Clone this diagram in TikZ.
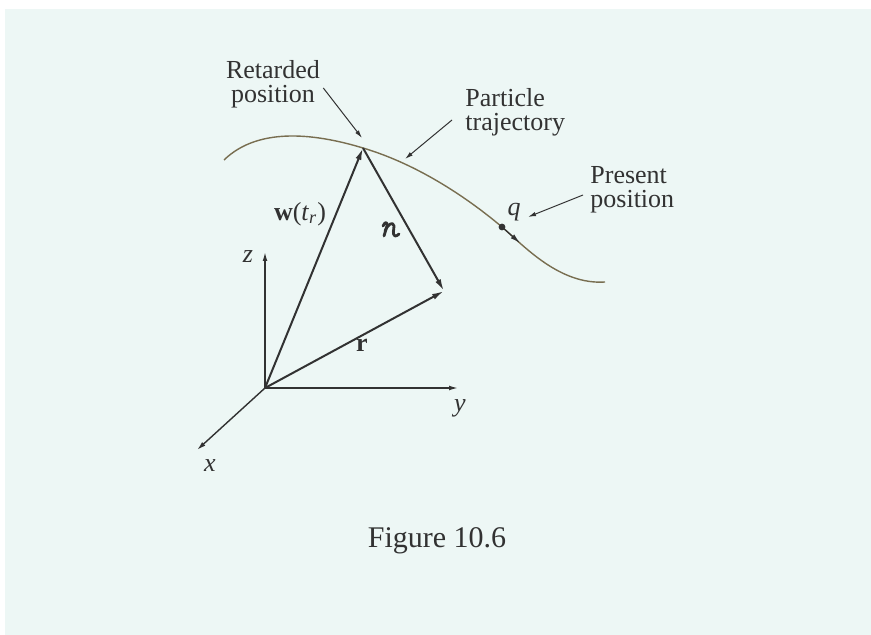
\documentclass[tikz,border=0pt]{standalone}
\usepackage{fontspec}
\setmainfont{Liberation Serif}
\usetikzlibrary{arrows.meta}
\definecolor{paper}{RGB}{237,247,245}
\definecolor{ink}{RGB}{50,50,50}
\definecolor{track}{RGB}{120,110,80}

\begin{document}
\begin{tikzpicture}[x=0.5pt, y=-0.5pt,
  vec/.style={ink, line width=1pt, -{Latex[length=6pt,width=3pt]}},
  axis/.style={ink, line width=0.7pt, -{Latex[length=4.5pt,width=2.4pt]}},
  pointer/.style={ink, line width=0.5pt, -{Latex[length=4pt,width=2.2pt]}},
  glyph/.style={ink, line width=1.4pt, line cap=round, line join=round},
  lbl/.style={font=\fontsize{13}{12}\selectfont, text=ink, inner sep=0pt}]
\fill[white] (0,0) rectangle (871,635);
\fill[paper] (5,9) rectangle (871,635);
\useasboundingbox (0,0) rectangle (871,635);

\coordinate (O) at (265,388);
\coordinate (ztip) at (265,252);
\coordinate (ytip) at (458,388);
\coordinate (xtip) at (197,450);
\coordinate (R) at (363,148);
\coordinate (P) at (444,291);
\coordinate (q) at (502,227);
\coordinate (start) at (224,160);
\coordinate (end) at (605,282);

\draw[track, line width=0.7pt] (start) .. controls (260,125) and (320,135) .. (R)
  .. controls (420,165) and (470,200) .. (q) .. controls (525,247) and (560,285) .. (end);
\fill[ink] (q) circle[radius=1.7pt];
\draw[ink, line width=0.6pt, -{Latex[length=5pt,width=2.6pt]}] (q) -- ++(18,16);

\draw[axis] (O) -- (ztip);
\draw[axis] (O) -- (ytip);
\draw[axis] (O) -- (xtip);
\draw[vec] (O) -- (R);
\draw[vec] (R) -- (P);
\draw[vec] (O) -- (P);

\node[lbl] (zlab) at (248,257) {\textit{z}};
\node[lbl] (ylab) at (460,408) {\textit{y}};
\node[lbl] (xlab) at (210,466) {\textit{x}};
\node[lbl] (wlab) at (300,214) {\textbf{w}(\textit{t}\textsubscript{\textit{r}})};
\node[lbl] (rlab) at (362,345) {\textbf{r}};
\node[lbl] (qlab) at (514,212) {\textit{q}};

% script r
\coordinate (scrr) at (391,229);
\begin{scope}[shift={(scrr)}]
\draw[glyph] (-8,-3) .. controls (-6,-8) and (-3,-7) .. (-4,-3) -- (-7,7);
\draw[glyph] (-6,2) .. controls (-3,-5) and (2,-8) .. (3,-3)
  .. controls (3,1) and (1,5) .. (4,7) .. controls (5,7.5) and (7,6) .. (8,5);
\end{scope}

\node[lbl, align=center] (retard) at (273,84) {Retarded\\position};
\node[lbl, align=left, anchor=west] (traj) at (465,112) {Particle\\trajectory};
\node[lbl, align=left, anchor=west] (present) at (590,190) {Present\\position};
\node[font=\fontsize{15}{15}\selectfont, text=ink] (caption) at (437,541) {Figure 10.6};

\coordinate (retardtip) at (362,138);
\coordinate (trajtip) at (405,159);
\coordinate (presenttip) at (528,217);
\draw[pointer] ([shift={(3,4)}]retard.east) -- (retardtip);
\draw[pointer] ([shift={(-13,8)}]traj.west) -- (trajtip);
\draw[pointer] ([shift={(-7,5)}]present.west) -- (presenttip);
\end{tikzpicture}
\end{document}
